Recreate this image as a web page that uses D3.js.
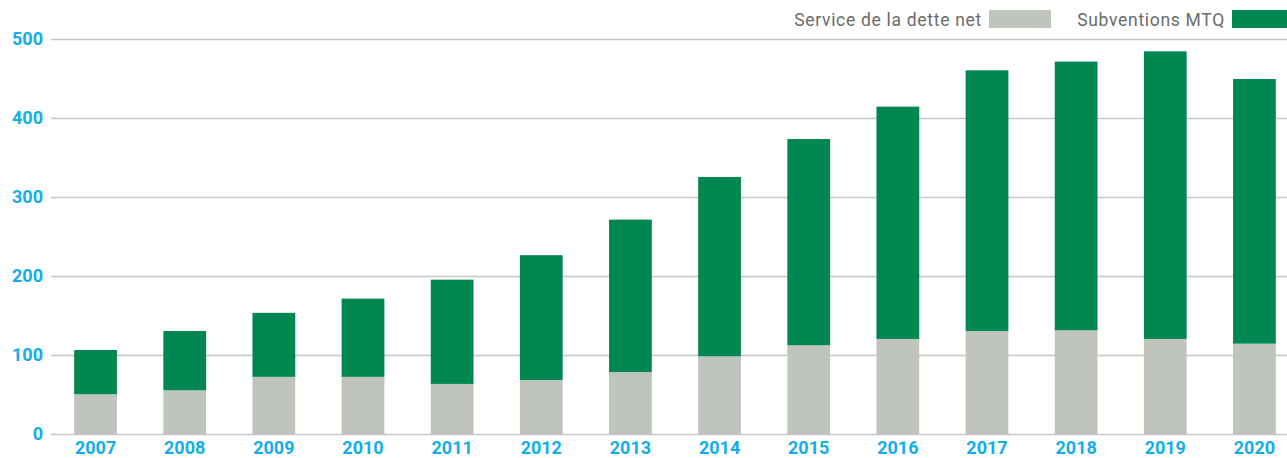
<!DOCTYPE html>
<html>
<head>
<meta charset="utf-8">
<script src="https://cdn.jsdelivr.net/npm/d3@7"></script>
<style>
  body { margin: 0; background: #fff; }
  svg { display: block; }
</style>
</head>
<body>
<svg id="chart" width="1287" height="458"></svg>
<script>
// data (millions $)
const years = ["2007", "2008", "2009", "2010", "2011", "2012", "2013", "2014", "2015", "2016", "2017", "2018", "2019", "2020"];
const serviceDette = [51, 56, 73, 73, 64, 69, 79, 99, 113, 121, 131, 132, 121, 115];
const subventions = [56, 75, 81, 99, 132, 158, 193, 227, 261, 294, 330, 340, 364, 335];
const yTicks = [0, 100, 200, 300, 400, 500];

const seriesNames = ["Service de la dette net", "Subventions MTQ"];
const colors = ["#bfc5bc", "#028752"];

const width = 1287, height = 458;
const svg = d3.select("#chart");

const rows = years.map((y, i) => ({ year: y, dette: serviceDette[i], subv: subventions[i] }));
const stack = d3.stack().keys(["dette", "subv"])(rows);

const x = d3.scaleBand()
    .domain(years)
    .range([51, 1299])
    .paddingInner(0.52)
    .paddingOuter(0.26);

const y = d3.scaleLinear()
    .domain([0, 500])
    .range([434.5, 39.5]);

// gridlines
svg.append("g")
    .selectAll("line")
    .data(yTicks)
    .enter().append("line")
    .attr("x1", 51)
    .attr("x2", width)
    .attr("y1", d => y(d))
    .attr("y2", d => y(d))
    .attr("stroke", "#c6c6c6")
    .attr("stroke-width", 1.5);

// y labels
svg.append("g")
    .selectAll("text")
    .data(yTicks)
    .enter().append("text")
    .attr("x", 43)
    .attr("y", d => y(d) + 5)
    .attr("text-anchor", "end")
    .attr("fill", "#12aee9")
    .attr("font-family", "Roboto, sans-serif")
    .attr("font-weight", 700)
    .attr("font-size", 18)
    .text(d => d);

// bars
svg.append("g")
    .selectAll("g")
    .data(stack)
    .enter().append("g")
    .attr("fill", (d, i) => colors[i])
    .selectAll("rect")
    .data(d => d)
    .enter().append("rect")
    .attr("x", d => x(d.data.year))
    .attr("width", x.bandwidth())
    .attr("y", d => y(d[1]))
    .attr("height", d => y(d[0]) - y(d[1]));

// year labels
svg.append("g")
    .selectAll("text")
    .data(years)
    .enter().append("text")
    .attr("x", d => x(d) + x.bandwidth() / 2)
    .attr("y", 454)
    .attr("text-anchor", "middle")
    .attr("fill", "#12aee9")
    .attr("font-family", "Roboto, sans-serif")
    .attr("font-weight", 700)
    .attr("font-size", 18)
    .text(d => d);

// legend
const legendPos = [{ textEnd: 982, sx: 989 }, { textEnd: 1225, sx: 1232 }];
const legend = svg.append("g")
    .selectAll("g")
    .data(seriesNames)
    .enter().append("g");

legend.append("text")
    .attr("x", (d, i) => legendPos[i].textEnd)
    .attr("y", 25.5)
    .attr("text-anchor", "end")
    .attr("fill", "#6b6b6b")
    .attr("font-family", "Roboto, sans-serif")
    .attr("font-size", 17.5)
    .attr("letter-spacing", 0.7)
    .text(d => d);

legend.append("rect")
    .attr("x", (d, i) => legendPos[i].sx)
    .attr("y", 10)
    .attr("width", 62)
    .attr("height", 18)
    .attr("fill", (d, i) => colors[i]);
</script>
</body>
</html>
